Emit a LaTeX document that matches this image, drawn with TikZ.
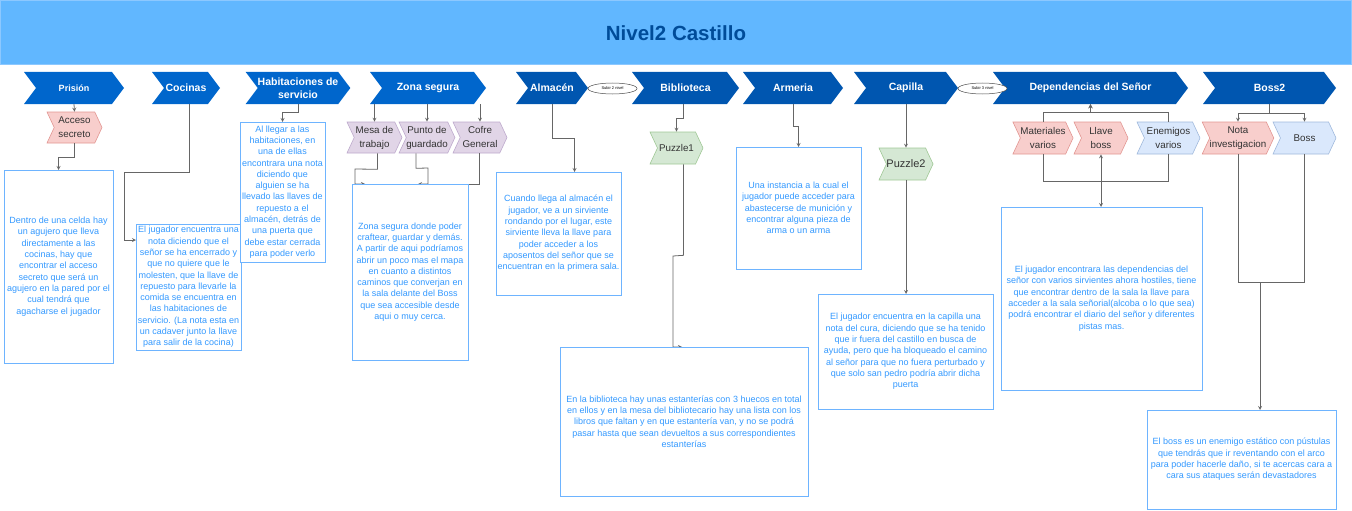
\documentclass[tikz,border=0pt]{standalone}
\usepackage{fontspec}
\setmainfont{Liberation Sans}
\usetikzlibrary{shapes.symbols,shapes.geometric,arrows.meta}

\definecolor{bandfill}{RGB}{97,183,255}
\definecolor{bandline}{RGB}{140,200,255}
\definecolor{titleblue}{RGB}{0,76,153}
\definecolor{chevA}{RGB}{0,102,204}
\definecolor{chevB}{RGB}{0,86,176}
\definecolor{boxline}{RGB}{110,180,255}
\definecolor{txtblue}{RGB}{51,153,255}
\definecolor{connline}{RGB}{102,102,102}
\definecolor{redF}{RGB}{248,206,204}
\definecolor{redL}{RGB}{226,150,146}
\definecolor{purF}{RGB}{225,213,231}
\definecolor{purL}{RGB}{190,170,205}
\definecolor{grnF}{RGB}{213,232,212}
\definecolor{grnL}{RGB}{160,200,150}
\definecolor{bluF}{RGB}{218,232,252}
\definecolor{bluL}{RGB}{160,185,220}

\tikzset{
  chev/.style={signal, signal to=east, signal from=west, signal pointer angle=106,
    fill=#1, draw=none, text=white, font=\bfseries\fontsize{10.5}{12.5}\selectfont,
    minimum height=32pt, inner sep=0pt, align=center},
  tag/.style={signal, signal to=east, signal from=west, signal pointer angle=130,
    fill=#1F, draw=#1L, line width=0.6pt, text=black!80,
    font=\fontsize{9.8}{14}\selectfont, minimum height=31pt, inner sep=0pt, align=center},
  infobox/.style={draw=boxline, line width=1pt, fill=white, text=txtblue,
    font=\fontsize{9}{11.3}\selectfont, align=center, inner sep=0pt},
  conn/.style={draw=connline, line width=0.8pt, ->},
  hop/.style={ellipse, draw=black!70, fill=white, line width=0.5pt, minimum width=49pt,
    minimum height=11pt, inner sep=0pt, font=\fontsize{4}{5}\selectfont}
}

\begin{document}
\begin{tikzpicture}[x=1pt, y=-1pt, >=stealth]
  \useasboundingbox (0,0) rectangle (1352,511);
  % title band
  \node[fill=bandfill, draw=bandline, line width=1pt, minimum width=1351pt, minimum height=64pt,
    inner sep=0pt] (band) at (676,33) {};
  \node[text=titleblue, font=\bfseries\fontsize{20.5}{24}\selectfont] (title) at (676,33) {Nivel2 Castillo};

  % rooms
  \node[chev=chevA, minimum width=100pt, font=\bfseries\fontsize{9}{11}\selectfont] (prision) at (74,88) {Prisión};
  \node[chev=chevA, minimum width=68pt] (cocinas) at (186,88) {Cocinas};
  \node[chev=chevA, minimum width=100pt] (habit) at (298,88) {Habitaciones de\\servicio};
  \node[chev=chevA, minimum width=116pt] (zona) at (428,88) {Zona segura};
  \node[chev=chevB, minimum width=72pt] (almacen) at (552,88) {Almacén};
  \node[chev=chevB, minimum width=107pt] (biblio) at (685.5,88) {Biblioteca};
  \node[chev=chevB, minimum width=100pt] (armeria) at (793,88) {Armeria};
  \node[chev=chevB, minimum width=104pt] (capilla) at (906,88) {Capilla};
  \node[chev=chevB, minimum width=195pt] (dep) at (1090.5,88) {Dependencias del Señor};
  \node[chev=chevB, minimum width=133pt] (boss2) at (1269.5,88) {Boss2};

  \node[hop] (sub2) at (612.5,88.5) {Subir 2 nivel};
  \node[hop] (sub3) at (982.5,88.5) {Subir 3 nivel};

  % items
  \node[tag=red, minimum width=55pt] (acceso) at (74.5,127.5) {Acceso\\secreto};
  \node[tag=pur, minimum width=55pt] (mesa) at (374.5,137.5) {Mesa de\\trabajo};
  \node[tag=pur, minimum width=52pt] (punto) at (427,137.5) {Punto de\\guardado};
  \node[tag=pur, minimum width=54pt] (cofre) at (480,137.5) {Cofre\\General};
  \node[tag=grn, minimum width=53pt, minimum height=32pt] (puz1) at (676.5,148) {Puzzle1};
  \node[tag=grn, minimum width=54pt, minimum height=32pt, font=\fontsize{11}{13}\selectfont] (puz2) at (906,164) {Puzzle2};
  \node[tag=red, minimum width=54pt, minimum height=32pt] (mat) at (1043,138) {Materiales\\varios};
  \node[tag=red, minimum width=54pt, minimum height=32pt] (llave) at (1101,138) {Llave\\boss};
  \node[tag=blu, minimum width=63pt, minimum height=32pt] (enem) at (1168.5,138) {Enemigos\\varios};
  \node[tag=red, minimum width=68pt, minimum height=32pt] (nota) at (1238,138) {Nota\\investigacion};
  \node[tag=blu, minimum width=63pt, minimum height=32pt] (bossn) at (1304.5,138) {Boss};

  % connectors (drawn before the boxes)
  \draw[conn] (prision.south) -- (acceso.north);
  \draw[conn] (acceso.south) -- ++(0,14) -| (58.5,170);
  \draw[conn] ([xshift=3pt]cocinas.south) -- ++(0,68) -| (124,240) -- (136,240);
  \draw[conn] (habit.south) -- ++(0,8) -| (282.5,122);
  \draw[conn] (zona.south -| mesa.north) -- (mesa.north);
  \draw[conn] (zona.south -| punto.north) -- (punto.north);
  \draw[conn] (zona.south -| cofre.north) -- (cofre.north);
  \draw[conn] ([xshift=3pt]mesa.south) -- ++(0,16) -- (355,169) |- (365,184);
  \draw[conn] ([xshift=-11pt]punto.south) -- ++(0,15) -- (428,168) |- (418,184);
  \draw[draw=connline, line width=0.8pt] ([xshift=-1pt]cofre.south) |- (468,184);
  \draw[conn] (almacen.south) -- ++(0,34) -| (574.5,172);
  \draw[conn] ([xshift=-2pt]biblio.south) -- ++(0,14) -| (puz1.north);
  \draw[conn] ([xshift=7pt]puz1.south) -- ++(0,91) -- (673,256) |- (682,347);
  \draw[conn] (armeria.south) -- ++(0,22) -| (798.5,147);
  \draw[conn] (capilla.south) -- (puz2.north);
  \draw[conn] (puz2.south) -- (906,294);
  \draw[conn] (mat.north) -- ++(0,-9) -| (dep.south);
  \draw[conn] (enem.north) -- ++(0,-9) -| (dep.south);
  \draw[draw=connline, line width=0.8pt] (mat.south) -- ++(0,27) -| (enem.south);
  \draw[conn, <->] (llave.south) -- (1101,207);
  \draw[conn] (boss2.south) -- ++(0,9) -| (nota.north);
  \draw[conn] (boss2.south) -- ++(0,9) -| (bossn.north);
  \draw[draw=connline, line width=0.8pt] (nota.south) |- (bossn.south |- 0,282) -- (bossn.south);
  \draw[conn] (1260,282) -- (1260,410);

  % descriptions
  \node[infobox, minimum width=109pt, minimum height=193pt] (pbox) at (58.5,266.5) {Dentro de una celda hay\\un agujero que lleva\\directamente a las\\cocinas, hay que\\encontrar el acceso\\secreto que será un\\agujero en la pared por el\\cual tendrá que\\agacharse el jugador};
  \node[infobox, minimum width=105pt, minimum height=126pt] (cbox) at (188.5,287) {El jugador encuentra una\\nota diciendo que el\\señor se ha encerrado y\\que no quiere que le\\molesten, que la llave de\\repuesto para llevarle la\\comida se encuentra en\\las habitaciones de\\servicio. (La nota esta en\\un cadaver junto la llave\\para salir de la cocina)};
  \node[infobox, minimum width=85pt, minimum height=140pt] (hbox) at (282.5,192) {Al llegar a las\\habitaciones, en\\una de ellas\\encontrara una nota\\diciendo que\\alguien se ha\\llevado las llaves de\\repuesto a el\\almacén, detrás de\\una puerta que\\debe estar cerrada\\para poder verlo};
  \node[infobox, minimum width=116pt, minimum height=176pt] (zbox) at (410,272) {Zona segura donde poder\\craftear, guardar y demás.\\A partir de aqui podríamos\\abrir un poco mas el mapa\\en cuanto a distintos\\caminos que converjan en\\la sala delante del Boss\\que sea accesible desde\\aqui o muy cerca.};
  \node[infobox, minimum width=125pt, minimum height=123pt] (abox) at (558.5,233.5) {Cuando llega al almacén el\\jugador, ve a un sirviente\\rondando por el lugar, este\\sirviente lleva la llave para\\poder acceder a los\\aposentos del señor que se\\encuentran en la primera sala.};
  \node[infobox, minimum width=248pt, minimum height=149pt] (libbox) at (684,421.5) {En la biblioteca hay unas estanterías con 3 huecos en total\\en ellos y en la mesa del bibliotecario hay una lista con los\\libros que faltan y en que estantería van, y no se podrá\\pasar hasta que sean devueltos a sus correspondientes\\estanterías};
  \node[infobox, minimum width=125pt, minimum height=122pt] (armbox) at (798.5,208) {Una instancia a la cual el\\jugador puede acceder para\\abastecerse de munición y\\encontrar alguna pieza de\\arma o un arma};
  \node[infobox, minimum width=175pt, minimum height=115pt] (capbox) at (905.5,351.5) {El jugador encuentra en la capilla una\\nota del cura, diciendo que se ha tenido\\que ir fuera del castillo en busca de\\ayuda, pero que ha bloqueado el camino\\al señor para que no fuera perturbado y\\que solo san pedro podría abrir dicha\\puerta};
  \node[infobox, minimum width=201pt, minimum height=183pt] (depbox) at (1101.5,298.5) {El jugador encontrara las dependencias del\\señor con varios sirvientes ahora hostiles, tiene\\que encontrar dentro de la sala la llave para\\acceder a la sala señorial(alcoba o lo que sea)\\podrá encontrar el diario del señor y diferentes\\pistas mas.};
  \node[infobox, minimum width=189pt, minimum height=99pt] (bossbox) at (1241.5,459.5) {El boss es un enemigo estático con pústulas\\que tendrás que ir reventando con el arco\\para poder hacerle daño, si te acercas cara a\\cara sus ataques serán devastadores};
\end{tikzpicture}
\end{document}
